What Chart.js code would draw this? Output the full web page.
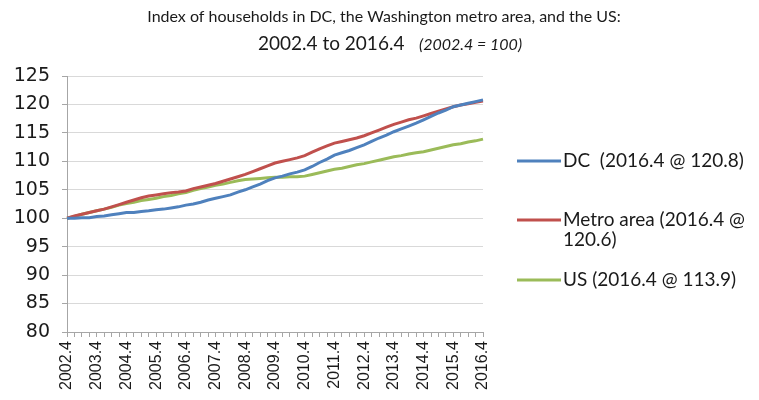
<!DOCTYPE html>
<html>
<head>
<meta charset="utf-8">
<script src="https://cdn.jsdelivr.net/npm/chart.js@4.4.1/dist/chart.umd.min.js"></script>
<style>
  html, body { margin: 0; padding: 0; background: #fff; }
  #wrap { width: 759px; height: 400px; }
</style>
</head>
<body>
<div id="wrap"><canvas id="canvas" width="759" height="400"></canvas></div>
<script>
// Quarterly index, 2002.4 = 100
const quarters = [];
for (let y = 2002; y <= 2016; y++) {
    for (let q = 1; q <= 4; q++) {
        if (y === 2002 && q < 4) continue;
        quarters.push(y + '.' + q);
    }
}

const dcValues = [
    100.0, 100.0, 100.1, 100.1, 100.3, 100.4, 100.6, 100.8, 101.0, 101.0,
    101.2, 101.3, 101.5, 101.6, 101.8, 102.0, 102.3, 102.5, 102.8, 103.2,
    103.5, 103.8, 104.1, 104.6, 105.0, 105.5, 106.0, 106.6, 107.1, 107.4,
    107.8, 108.1, 108.5, 109.1, 109.8, 110.4, 111.1, 111.5, 111.9, 112.4,
    112.9, 113.5, 114.1, 114.6, 115.2, 115.7, 116.2, 116.7, 117.3, 117.9,
    118.5, 119.0, 119.6, 119.9, 120.2, 120.5, 120.8
];
const metroValues = [
    100.0, 100.4, 100.7, 101.0, 101.3, 101.6, 102.0, 102.4, 102.8, 103.2,
    103.6, 103.9, 104.1, 104.3, 104.5, 104.6, 104.8, 105.2, 105.5, 105.8,
    106.1, 106.5, 106.9, 107.3, 107.7, 108.2, 108.7, 109.2, 109.7, 110.0,
    110.3, 110.6, 111.0, 111.6, 112.2, 112.7, 113.2, 113.5, 113.8, 114.1,
    114.5, 115.0, 115.5, 116.0, 116.5, 116.9, 117.3, 117.6, 118.0, 118.4,
    118.8, 119.2, 119.6, 119.9, 120.1, 120.4, 120.6
];
const usValues = [
    100.0, 100.3, 100.7, 101.0, 101.3, 101.6, 101.9, 102.3, 102.6, 102.8,
    103.1, 103.3, 103.5, 103.8, 104.0, 104.3, 104.5, 104.9, 105.2, 105.5,
    105.8, 106.0, 106.3, 106.6, 106.8, 106.9, 107.0, 107.1, 107.2, 107.2,
    107.3, 107.3, 107.4, 107.7, 108.0, 108.3, 108.6, 108.8, 109.1, 109.4,
    109.6, 109.9, 110.2, 110.5, 110.8, 111.0, 111.3, 111.5, 111.7, 112.0,
    112.3, 112.6, 112.9, 113.1, 113.4, 113.6, 113.9
];

const seriesNames = [
    ['DC  (2016.4 @ 120.8)'],
    ['Metro area (2016.4 @', '120.6)'],
    ['US (2016.4 @ 113.9)']
];
const titleLine1 = 'Index of households in DC, the Washington metro area, and the US:';
const titleLine2 = '2002.4 to 2016.4';
const titleNote = '(2002.4 = 100)';

const yMin = 80, yMax = 125, yStep = 5;

const colors = {
    dc: '#4F81BD',
    metro: '#C0504D',
    us: '#9BBB59',
    grid: '#D9D9D9',
    axis: '#A6A6A6',
    text: '#1a1a1a'
};

const textFont = 'Lato, sans-serif';

// title in two lines, second with an italic note
const titlePlugin = {
    id: 'twoLineTitle',
    afterDraw(chart) {
        const ctx = chart.ctx;
        ctx.save();
        ctx.fillStyle = colors.text;
        ctx.textBaseline = 'middle';
        ctx.textAlign = 'center';
        ctx.font = '16px ' + textFont;
        ctx.fillText(titleLine1, 384, 17);

        ctx.font = '19px ' + textFont;
        const w1 = ctx.measureText(titleLine2 + '   ').width;
        ctx.font = 'italic 16px ' + textFont;
        const w2 = ctx.measureText(titleNote).width;
        const start = 390 - (w1 + w2) / 2;
        ctx.textAlign = 'left';
        ctx.font = '19px ' + textFont;
        ctx.fillText(titleLine2, start, 44);
        ctx.font = 'italic 16px ' + textFont;
        ctx.fillText(titleNote, start + w1, 45);
        ctx.restore();
    }
};

// legend to the right of the plot, labels may wrap
const sideLegend = {
    id: 'sideLegend',
    afterDraw(chart) {
        const ctx = chart.ctx;
        const rows = [161, 220, 280];
        ctx.save();
        chart.data.datasets.forEach((ds, i) => {
            const y = rows[i];
            ctx.strokeStyle = ds.borderColor;
            ctx.lineWidth = 3;
            ctx.beginPath();
            ctx.moveTo(517, y);
            ctx.lineTo(561, y);
            ctx.stroke();
            ctx.fillStyle = colors.text;
            ctx.font = '19px ' + textFont;
            ctx.textBaseline = 'middle';
            ctx.textAlign = 'left';
            seriesNames[i].forEach((line, j) => {
                ctx.fillText(line, 563, y + j * 20);
            });
        });
        ctx.restore();
    }
};

const ctx = document.getElementById('canvas').getContext('2d');

const chart = new Chart(ctx, {
    type: 'line',
    data: {
        labels: quarters,
        datasets: [
            { label: seriesNames[0].join(' '), data: dcValues, borderColor: colors.dc },
            { label: seriesNames[1].join(' '), data: metroValues, borderColor: colors.metro },
            { label: seriesNames[2].join(' '), data: usValues, borderColor: colors.us }
        ].map(ds => Object.assign(ds, {
            borderWidth: 3,
            pointRadius: 0,
            tension: 0,
            fill: false
        }))
    },
    options: {
        responsive: false,
        animation: false,
        layout: {
            padding: { left: 0, right: 276, top: 76, bottom: 0 }
        },
        plugins: {
            legend: { display: false },
            title: { display: false },
            tooltip: { enabled: false }
        },
        scales: {
            x: {
                type: 'category',
                offset: false,
                grid: {
                    drawOnChartArea: false,
                    drawTicks: true,
                    tickLength: 5,
                    color: colors.axis
                },
                border: { color: colors.axis, width: 1 },
                ticks: {
                    autoSkip: false,
                    maxRotation: 90,
                    minRotation: 90,
                    padding: 4,
                    color: colors.text,
                    font: { family: 'Liberation Sans', size: 16 },
                    callback: function(value, index) {
                        return index % 4 === 0 ? this.getLabelForValue(value) : '';
                    }
                },
                afterFit(scale) { scale.height = 68; }
            },
            y: {
                min: yMin,
                max: yMax,
                grid: {
                    color: colors.grid,
                    tickLength: 5,
                    tickColor: colors.axis
                },
                border: { color: colors.axis, width: 1 },
                ticks: {
                    stepSize: yStep,
                    padding: 12,
                    color: colors.text,
                    font: { family: 'DejaVu Sans', size: 19 }
                },
                afterFit(scale) { scale.width = 67; }
            }
        }
    },
    plugins: [titlePlugin, sideLegend]
});
</script>
</body>
</html>
